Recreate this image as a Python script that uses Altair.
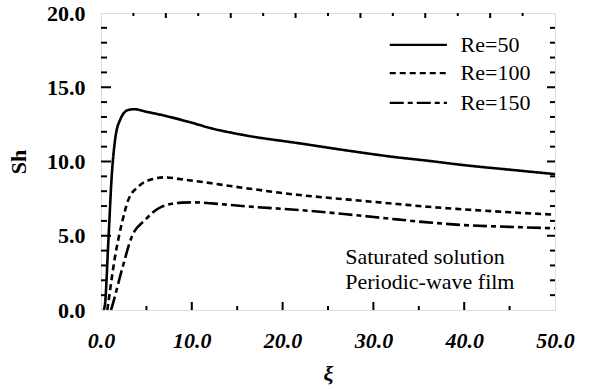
import altair as alt
import pandas as pd

# ---- data ----
series_names = ["Re=50", "Re=100", "Re=150"]

xi_re50 = [0.3, 0.45, 0.8, 1.2, 1.55, 2.1, 3.0, 3.7, 5.0, 6.7, 9.6, 12.2, 16.0, 21.9, 27.0, 32.6, 36.0, 39.9, 45.0, 50.0]
sh_re50 = [0.0, 0.45, 4.5, 9.2, 11.45, 12.8, 13.47, 13.52, 13.35, 13.13, 12.68, 12.23, 11.75, 11.22, 10.75, 10.28, 10.05, 9.76, 9.45, 9.15]

xi_re100 = [0.7, 0.8, 1.55, 2.3, 3.0, 4.1, 5.6, 7.0, 8.9, 12.2, 16.0, 21.9, 27.0, 32.6, 36.0, 39.9, 45.0, 50.0]
sh_re100 = [0.0, 0.45, 3.6, 5.85, 7.4, 8.3, 8.8, 8.93, 8.8, 8.53, 8.2, 7.74, 7.45, 7.14, 6.95, 6.78, 6.58, 6.42]

xi_re150 = [1.1, 1.2, 2.3, 3.4, 4.85, 6.7, 8.9, 10.4, 12.2, 16.0, 21.9, 27.0, 32.6, 36.0, 39.9, 45.0, 50.0]
sh_re150 = [0.0, 0.2, 2.7, 4.95, 6.06, 6.96, 7.23, 7.25, 7.18, 6.98, 6.73, 6.45, 6.1, 5.9, 5.72, 5.6, 5.5]

x_label_values = [0, 10, 20, 30, 40, 50]
y_label_values = [0, 5, 10, 15, 20]

x_major_ticks = [10, 20, 30, 40]
x_minor_ticks = [5, 15, 25, 35, 45]
top_major_ticks = [7.14, 14.29, 21.43, 28.57, 35.71, 42.86]
top_minor_ticks = [3.57, 10.71, 17.86, 25.0, 32.14, 39.29, 46.43]
y_major_ticks = [5, 10, 15]
y_minor_ticks = [1, 2, 3, 4, 6, 7, 8, 9, 11, 12, 13, 14, 16, 17, 18, 19]

note_lines = ["Saturated solution", "Periodic-wave film"]
note_x = [26.9, 26.9]
note_y = [3.6, 1.9]

# legend key placement (in data units)
legend_row_sh = [17.85, 15.95, 13.95]
legend_key_xi = [31.8, 38.1]
legend_label_xi = 39.6

# ---- tables ----
rows = []
for name, xs, ys in zip(series_names, [xi_re50, xi_re100, xi_re150], [sh_re50, sh_re100, sh_re150]):
    for i, (x, y) in enumerate(zip(xs, ys)):
        rows.append({"xi": x, "sh": y, "re": name, "order": i})
df = pd.DataFrame(rows)

leg_df = pd.DataFrame({
    "re": series_names,
    "x0": [legend_key_xi[0]] * 3,
    "x1": [legend_key_xi[1]] * 3,
    "xl": [legend_label_xi] * 3,
    "y": legend_row_sh,
})

W, H = 454, 297
FONT = "Liberation Serif"

xscale = alt.Scale(domain=[0, 50], nice=False, zero=False)
yscale = alt.Scale(domain=[0, 20], nice=False, zero=False)
dash_scale = alt.Scale(domain=series_names, range=[[1, 0], [6, 4], [14, 4, 5, 4]])

x_axis = alt.Axis(
    values=x_label_values, format=".1f", ticks=False, domain=False, grid=False,
    labelFont=FONT, labelFontSize=22, labelFontWeight="bold", labelFontStyle="italic",
    labelColor="black", labelPadding=20, labelFlush=False,
    title="ξ", titleFont=FONT, titleFontSize=22, titleFontWeight="bold",
    titleFontStyle="italic", titleColor="black", titlePadding=12)
y_axis = alt.Axis(
    values=y_label_values, format=".1f", ticks=False, domain=False, grid=False,
    labelFont=FONT, labelFontSize=22, labelFontWeight="bold",
    labelColor="black", labelPadding=16, labelFlush=False,
    title="Sh", titleFont=FONT, titleFontSize=22, titleFontWeight="bold",
    titleColor="black", titlePadding=16)


def X(field):
    return alt.X(field, scale=xscale, axis=x_axis, title="ξ")


def Y(field):
    return alt.Y(field, scale=yscale, axis=y_axis, title="Sh")


lines = alt.Chart(df).mark_line(color="black", strokeWidth=2.6, interpolate="monotone", clip=True).encode(
    x=X("xi:Q"),
    y=Y("sh:Q"),
    strokeDash=alt.StrokeDash("re:N", scale=dash_scale, legend=None),
    order="order:Q",
)

leg_keys = alt.Chart(leg_df).mark_rule(color="black", strokeWidth=2.2).encode(
    x=X("x0:Q"), x2="x1:Q", y=Y("y:Q"),
    strokeDash=alt.StrokeDash("re:N", scale=dash_scale, legend=None),
)
leg_labels = alt.Chart(leg_df).mark_text(font=FONT, fontSize=22, align="left", baseline="middle",
                                         color="black").encode(
    x=X("xl:Q"), y=Y("y:Q"), text="re:N",
)


def tick_layer(values, orient, length):
    t = pd.DataFrame({"v": values})
    base = alt.Chart(t).mark_rule(color="black", strokeWidth=2)
    if orient == "bottom":
        return base.encode(x=X("v:Q"), y=alt.value(H), y2=alt.value(H - length))
    if orient == "top":
        return base.encode(x=X("v:Q"), y=alt.value(0), y2=alt.value(length))
    if orient == "left":
        return base.encode(y=Y("v:Q"), x=alt.value(0), x2=alt.value(length))
    return base.encode(y=Y("v:Q"), x=alt.value(W), x2=alt.value(W - length))


ticks = [
    tick_layer(x_major_ticks, "bottom", 8),
    tick_layer(x_minor_ticks, "bottom", 4),
    tick_layer(top_major_ticks, "top", 5),
    tick_layer(top_minor_ticks, "top", 3),
    tick_layer(y_major_ticks, "left", 10),
    tick_layer(y_minor_ticks, "left", 6),
    tick_layer(y_major_ticks, "right", 8),
    tick_layer(y_minor_ticks, "right", 5),
]

notes_df = pd.DataFrame({"t": note_lines, "x": note_x, "y": note_y})
notes = alt.Chart(notes_df).mark_text(font=FONT, fontSize=22, align="left", baseline="middle",
                                      color="black").encode(
    x=X("x:Q"),
    y=Y("y:Q"),
    text="t:N",
)

chart = alt.layer(lines, leg_keys, leg_labels, notes, *ticks).properties(
    width=W, height=H,
    autosize=alt.AutoSizeParams(type="none"),
    padding={"left": 101, "top": 13, "right": 35, "bottom": 79},
).configure_view(stroke="black", strokeWidth=2.8).configure(background="white")

chart.save("out.html", embed_options={"renderer": "svg", "actions": False})
